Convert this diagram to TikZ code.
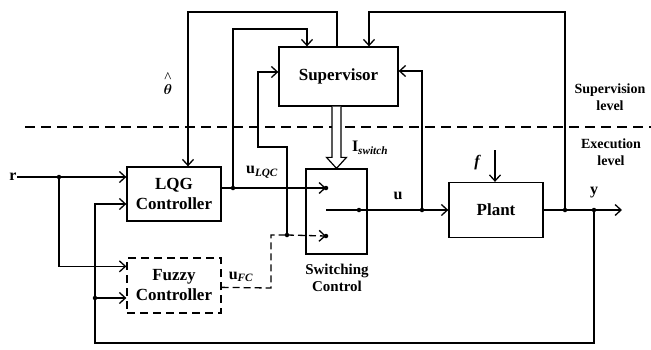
\documentclass[tikz,border=0pt]{standalone}
\usepackage{fontspec}
\setmainfont{Liberation Serif}
\usetikzlibrary{arrows.meta,calc}
\begin{document}
\begin{tikzpicture}[x=1pt,y=-1pt,line width=1.3pt,
  blk/.style={draw,rectangle,inner sep=0pt,align=center,font=\fontsize{17}{20}\selectfont\bfseries},
  arr/.style={-{Straight Barb[length=6pt,width=11pt,line width=1.3pt]}},
  jdot/.style={circle,fill,inner sep=0pt,minimum size=4.5pt},
  lbl/.style={align=center,font=\fontsize{15}{17}\selectfont\bfseries,inner sep=0pt},
  mth/.style={inner sep=0pt,align=center,font=\fontsize{15}{12}\selectfont\boldmath},
  sig/.style={inner sep=0pt,font=\fontsize{16}{18}\selectfont\bfseries},
  lev/.style={align=center,font=\fontsize{14}{17}\selectfont\bfseries,inner sep=0pt}]
\useasboundingbox[fill=white] (0,0) rectangle (651,349);

% level separator
\draw[dash pattern=on 10pt off 6pt] (25,127) -- (651,127);

% blocks
\node[blk,minimum width=119pt,minimum height=59pt] (sup) at (338.5,76.5) {Supervisor};
\node[blk,minimum width=94pt,minimum height=54pt] (lqg) at (174,194) {LQG\\Controller};
\node[blk,dash pattern=on 8pt off 5pt,minimum width=94pt,minimum height=55pt] (fuzzy) at (174,285.5) {Fuzzy\\Controller};
\node[blk,minimum width=61pt,minimum height=85pt] (sw) at (336.5,211.5) {};
\node[blk,minimum width=94pt,minimum height=55pt] (plant) at (496,210) {Plant};

% labels
\node[sig] (r) at (13,177) {r};
\node[mth] (theta) at (168,84) {\^{}\\$\theta$};
\node[sig] (ulqc) at (262,172) {u\textsubscript{\itshape LQC}};
\node[sig] (ufc) at (241,277) {u\textsubscript{\itshape FC}};
\node[sig] (isw) at (370,148) {I\textsubscript{\itshape switch}};
\node[sig] (ul) at (398,196) {u};
\node[sig] (yl) at (594,193) {y};
\node[sig] (fl) at (477,163) {\itshape f};
\node[lbl] (swl) at (337,278) {Switching\\Control};
\node[lev] (supl) at (610,97) {Supervision\\level};
\node[lev] (exl) at (611,152) {Execution\\level};

% junctions
\coordinate (jr) at (59,177);
\coordinate (jfb) at (95,298);
\coordinate (jlqc) at (233,188);
\coordinate (jfc) at (287,235);
\coordinate (swin1) at (326,188);
\coordinate (swin2) at (326,236);
\coordinate (swo) at (326,210);
\coordinate (jsw) at (359,210);
\coordinate (ju) at (422,210);
\coordinate (jys) at (565,210);
\coordinate (jy) at (594,210);
\coordinate (yend) at (622,210);
\coordinate (fbr) at (594,343);
\coordinate (fbl) at (95,343);
\coordinate (lqgin2) at ($(lqg.west)+(0,10)$);
\coordinate (fzin1) at ($(fuzzy.north west)+(0,9)$);
\coordinate (fzout) at ($(fuzzy.north east)+(0,30)$);
\coordinate (fzc) at (271,288);
\coordinate (c3) at (307,29);
\coordinate (c4) at (258,147);
\coordinate (c4b) at (258,72);
\coordinate (thtop) at (337,12);
\coordinate (thl) at (188,12);
\coordinate (ytop) at (565,12);
\coordinate (ytl) at (369,12);
\coordinate (ur) at (422,71);
\coordinate (fstart) at (495,150);
\coordinate (hb) at (sw.north |- sup.south);

% connectors
\draw[arr] (r.east) -- (r.east -| lqg.west);
\draw[arr] (jr) |- (fzin1);
\draw[arr] (jy) -- (fbr) -- (fbl) |- (lqgin2);
\draw[arr] (jfb) -- (jfb -| fuzzy.west);
\draw[arr] (jlqc -| lqg.east) -- (swin1);
\draw[arr] (jlqc) |- (c3) -- (c3 |- sup.north);
\draw[dash pattern=on 7pt off 4pt] (fzout) -- (fzc) |- (jfc);
\draw[dash pattern=on 7pt off 4pt,arr] (jfc) -- (swin2);
\draw[arr] (jfc) |- (c4) -- (c4b) -- (c4b -| sup.west);
\draw[arr] (thtop |- sup.north) -- (thtop) -- (thl) -- (thl |- lqg.north);
\draw[arr] (jys) -- (ytop) -- (ytl) -- (ytl |- sup.north);
\draw[arr] (ju) -- (ur) -- (ur -| sup.east);
\draw (swo) -- (jsw);
\draw[arr] (jsw) -- (plant.west);
\draw[arr] (plant.east) -- (yend);
\draw[arr] (fstart) -- (fstart |- plant.north);

% hollow arrow from supervisor to switching control
\draw[line width=1.2pt,fill=white,line join=miter]
  ($(hb)+(-4.5,0)$) -- ($(sw.north)+(-4.5,-11)$) -- ($(sw.north)+(-10,-11)$)
  -- (sw.north) -- ($(sw.north)+(10,-11)$) -- ($(sw.north)+(4.5,-11)$)
  -- ($(hb)+(4.5,0)$);

% dots
\foreach \p in {jr,jfb,jlqc,jfc,swin1,swin2,jsw,ju,jys,jy}
  \node[jdot] at (\p) {};
\end{tikzpicture}
\end{document}
